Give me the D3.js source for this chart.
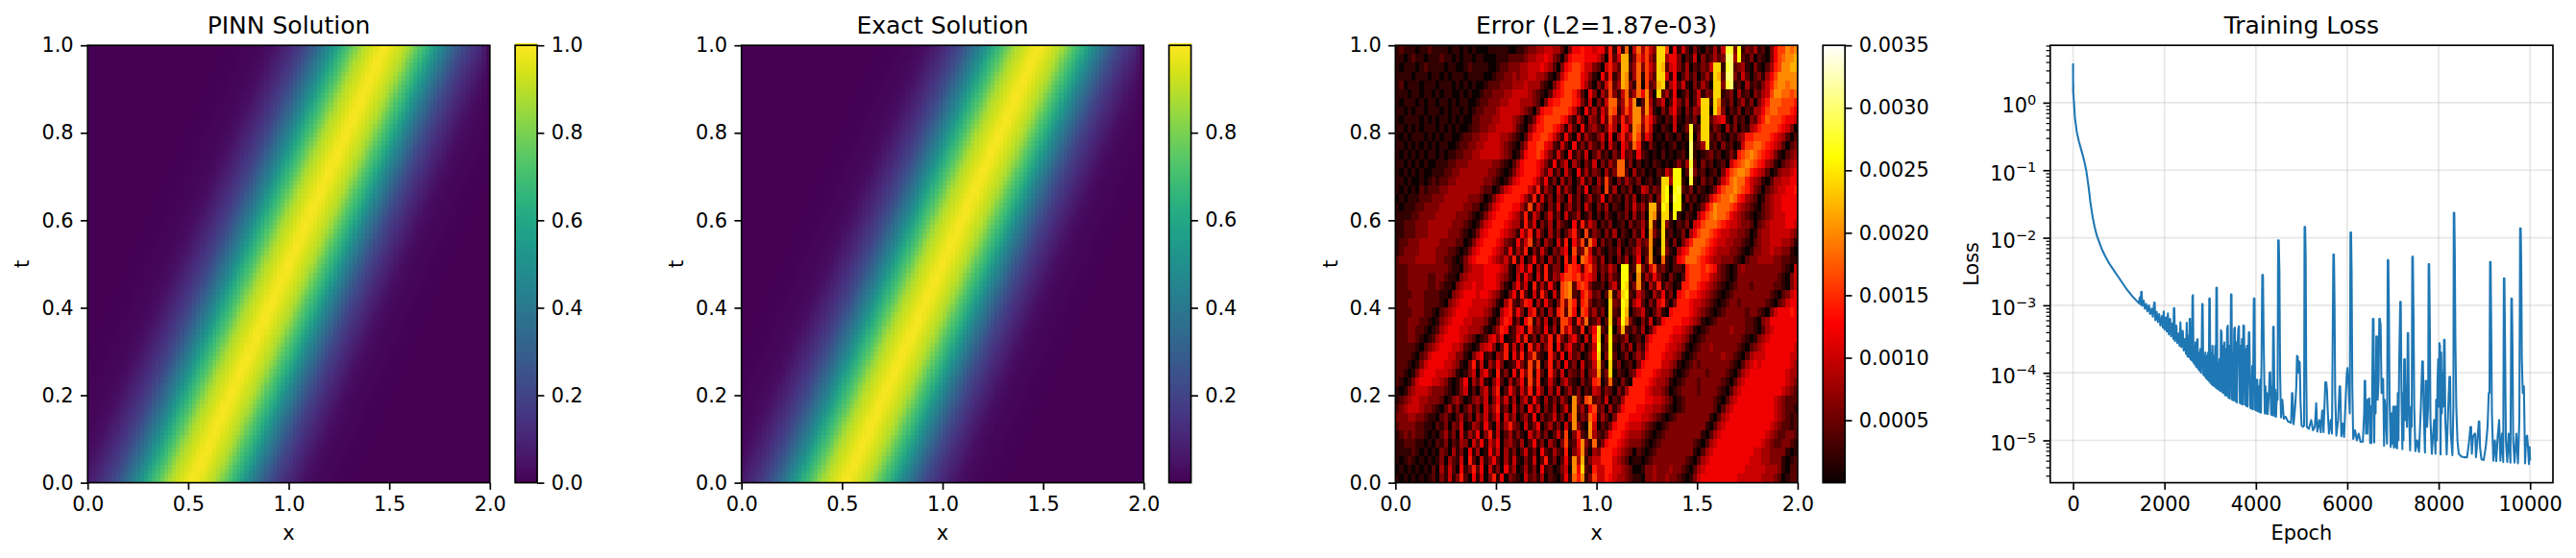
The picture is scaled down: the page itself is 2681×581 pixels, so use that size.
<!DOCTYPE html>
<html><head><meta charset="utf-8">
<script src="https://cdn.jsdelivr.net/npm/d3@7"></script>
<style>html,body{margin:0;background:#fff}svg{display:block}text{font-family:"DejaVu Sans";fill:#000}</style>
</head><body><div id="c"></div>
<script>
// u(x,t): rows bottom (t=0) to top (t=1), columns x=0..2, one base-36 digit per cell (level/35)^1.5
const pinnRows=[
"68acfilortwxyzyxwtrolifca864322110",
"468acfilortwxyzyxwtrolifca864322110",
"3468acfilortwxyzyxwtrolifca864322110",
"23468acfilortwxyzyxwtrolifca864322110",
"223468acfilortwxyzyxwtrolifca864322110",
"1223468acfilortwxyzyxwtrolifca864322110",
"11223468acfilortwxyzyxwtrolifca864322110",
"011223468acfilortwxyzyxwtrolifca864322110",
"0011223468acfilortwxyzyxwtrolifca864322110",
"00011223468acfilortwxyzyxwtrolifca864322110",
"000011223468acfilortwxyzyxwtrolifca864322110",
"0000011223468acfilortwxyzyxwtrolifca864322110",
"00000011223468acfilortwxyzyxwtrolifca864322110",
"000000011223468acfilortwxyzyxwtrolifca864322110",
"0000000011223468acfilortwxyzyxwtrolifca864322110",
"00000000011223468acfilortwxyzyxwtrolifca864322110",
"000000000011223468acfilortwxyzyxwtrolifca864322110",
"0000000000011223468acfilortwxyzyxwtrolifca86432211",
"00000000000011223468acfilortwxyzyxwtrolifca8643221",
"000000000000011223468acfilortwxyzyxwtrolifca864322",
"0000000000000011223468acfilortwxyzyxwtrolifca86432",
"00000000000000011223468acfilortwxyzyxwtrolifca8643",
"000000000000000011223468acfilortwxyzyxwtrolifca864",
"0000000000000000011223468acfilortwxyzyxwtrolifca86",
"00000000000000000011223468acfilortwxyzyxwtrolifca8"];
const exactRows=[
"68acfilortwxyzyxwtrolifca864322110",
"468acfilortwxyzyxwtrolifca864322110",
"3468acfilortwxyzyxwtrolifca864322110",
"23468acfilortwxyzyxwtrolifca864322110",
"223468acfilortwxyzyxwtrolifca864322110",
"1223468acfilortwxyzyxwtrolifca864322110",
"11223468acfilortwxyzyxwtrolifca864322110",
"011223468acfilortwxyzyxwtrolifca864322110",
"0011223468acfilortwxyzyxwtrolifca864322110",
"00011223468acfilortwxyzyxwtrolifca864322110",
"000011223468acfilortwxyzyxwtrolifca864322110",
"0000011223468acfilortwxyzyxwtrolifca864322110",
"00000011223468acfilortwxyzyxwtrolifca864322110",
"000000011223468acfilortwxyzyxwtrolifca864322110",
"0000000011223468acfilortwxyzyxwtrolifca864322110",
"00000000011223468acfilortwxyzyxwtrolifca864322110",
"000000000011223468acfilortwxyzyxwtrolifca864322110",
"0000000000011223468acfilortwxyzyxwtrolifca86432211",
"00000000000011223468acfilortwxyzyxwtrolifca8643221",
"000000000000011223468acfilortwxyzyxwtrolifca864322",
"0000000000000011223468acfilortwxyzyxwtrolifca86432",
"00000000000000011223468acfilortwxyzyxwtrolifca8643",
"000000000000000011223468acfilortwxyzyxwtrolifca864",
"0000000000000000011223468acfilortwxyzyxwtrolifca86",
"00000000000000000011223468acfilortwxyzyxwtrolifca8"];
// |error|: rows top (t=1) to bottom (t=0), 100 columns, hex digit = units of 0.0002
const errorRows=[
"1211101121 1110110101 0001111100 1123344554 4203667665 6627171905 94853cc806 1520310214 15ee3d1324 1203688a9a",
"1101211011 1211010110 1100011122 2234455653 2036777666 530725bb13 85842cc466 3021503124 23ff4d2130 2103689aab",
"1011101211 1101100121 1110012233 3445556542 0367887553 205742bb24 93853cb256 314021325c c1ef234103 102478aabb",
"1111011101 1010111011 1100122334 3445544310 2578886531 062713ba14 91842cc516 024130241c b2ff315202 31468aaaaa",
"1201110111 0111010101 0012223334 4454442103 5788886420 315824ba31 90823bc146 251031420c c3ef120412 13579aa9aa",
"1110110110 1011001010 0122333445 5554321025 6788752063 0428315924 96a30c2416 013025132c c123041203 2458aa9989",
"1011101011 0110101100 1223334455 5444320367 7888763150 315992495a 02a4135026 314025cc1c a213024130 3579998887",
"1101011011 1010110101 2233345555 5432036778 8887520624 153981485a a3a5103146 203143cc0c 9302130214 4689988876",
"1011110101 0110101002 2333445554 3201367888 8763152043 162842735a a486310215 102130cc24 5610312032 5798887665",
"1101010111 0101010012 2334455554 2103577887 6415206134 213740762a 9385102105 013e12cc13 2041302145 7888876530",
"1010111010 1011001223 3445554432 1025778875 3162051421 351604735a 8264010210 201e03cc21 3102134778 8887654202",
"1101010101 0110012233 4455554321 0247788652 1520613142 1405206429 7103101012 010f124c12 0312015889 9876542023",
"1010101011 0101122334 4555554320 1367787531 5206131502 4120316231 6210102010 120f101231 2013178 9a9 8765310234",
"1101010100 1112233344 4444332102 4677765316 1350420315 0314299130 2010210101 314e203120 1205789a98 7643102345",
"1010101001 1122334444 4443321013 5677764251 3052061413 2041399204 120102153d d02f312012 03689aa976 5420134456",
"1101001012 1223344444 4433210135 6777642613 0413025130 4182031421 301201cc4d d10e103120 2579a99754 3102445566",
"1010102122 2334444444 4322013567 7775371420 5142031602 3081402130 154132cd0d e213021013 6899a98753 2023455667",
"0101112223 3344444433 3201356777 7642715130 4205130241 2603120314 021303cd1e d031201257 899a976432 0134556666",
"1011122333 3444444332 2013567776 6428152031 5024130520 3140210315 241bb2dc0d d10201368a 9998754321 0234556666",
"1111223333 4444433321 0135677765 4271530251 3051240130 2031021304 130ba1cc1d 102104689a 9986543210 1234555666",
"1122233344 4444333210 1356777654 4172503140 4210617253 0213012031 241b20c310 2130568999 8765543320 2345555665",
"1122233344 4443332101 3567776543 1637152041 3024720813 2031402103 150a31c120 1304689987 6554433201 3445555543",
"1223334444 4333322013 5677765321 6258130420 5170638195 0312031021 423a10c203 0357999876 5544332102 3445554431",
"1233334444 3332210135 6777654261 4270315203 2460823951 3102140213 512a01c310 4679998765 4443321013 3445443310",
"2333344444 3322101356 7776543527 1502613041 3071709863 1402031402 603a109102 6799987654 4333210233 4444332211",
"2223333333 3332110345 5566665410 4626041713 3068762784 132530dd12 b315823102 2178887876 3210134333 3333332105",
"2223333322 3321103455 5566654310 5163051714 3688785764 031421dd20 a142631031 0278887754 3210133333 3333321035",
"2223333322 3211034556 5566653103 6250714162 089a278731 120351dc13 a204271320 1778876543 2101233323 3333221035",
"2222333222 2110345666 5665431036 1720517305 189a216852 302b14cd21 5310426130 6787765432 1012333333 3332102356",
"2223333222 2103456665 5554310472 1376041620 3839717831 210c32dc14 6203157203 7776554321 0123323333 3321023566",
"2222333221 0234566655 5543104672 6305713041 7829608724 130c21db02 3510241067 7776543210 1233333233 2103566676",
"2223332210 1345666554 4431025761 3068141503 1885173912 402c14da31 0315026777 7665431012 3333333221 0346666666",
"2223322101 2456665544 4310247612 5617231614 0847217036 c21d03b213 1402577776 6543101233 3334333221 0245666666",
"2223321012 4566665432 0125636012 6271304271 7314620517 c03d212401 2046777765 5431012333 3333332101 3456666666",
"2222210234 5666554210 1456302715 1507251370 6146214025 d12d103140 3157777655 4310123343 3333321023 4566666665",
"2222102356 6665533103 5612043706 2714821073 1605230136 c03d201302 4267776554 3101233333 3433210245 5566666655",
"2221013566 6655431037 1504263012 6318280271 4061305125 b20c130120 3677775543 1012323333 3332102456 5666666654",
"2210135666 5554310135 0462071306 1738172073 1503214034 a13c021023 6777654431 0123333233 3321024566 6666666544",
"2101356665 5431013604 2510362041 3618270152 0352103127 8029103107 7776544310 1233323333 3210245666 6666666543",
"1013455543 3321013502 0351470263 1527163041 5024130215 4132031477 7765443201 2333323333 2102456666 6666665432",
"1234554433 3201342013 4250362514 0351620413 1420a31892 3150214777 7766554320 1233333332 1024566666 6666543222",
"2345554332 1024130241 3052471305 1306250314 0251a24168 2304136777 6655443210 1233333332 0245666666 6666543221",
"3334433211 0231024130 4251360524 0241603125 1304a13297 1420377766 6554321012 3333333310 2456666666 6666543212",
"2333322110 2130325014 3162051473 2051360241 3051a310a5 0213677655 5432101233 3333333102 4566666666 6665432212",
"1232322101 0241305142 6037150241 3105241302 51803721a4 2136776544 4321012333 3333331024 5666666666 6654322332",
"1122211010 2130214305 2615360342 1402613042 038126a319 1367765433 3210123333 3333210245 6666666666 6543223321",
"1111210101 0320413061 4016250413 0251306214 217035a204 3777654320 2101233333 3333102456 6666666665 5443333101",
"1012101010 1304215072 0513620415 1031502713 0261a4b135 5777543201 1012333333 3321024566 6666666655 5443331012",
"0101010102 0415206137 2605130624 0141306120 1350a6c217 5577554320 0133433343 3210245666 6666666555 5544431022",
"1010101012 0315137206 1503716032 1052314021 026197a138 5576544321 1033433433 2101356666 6666655555 5444320122"];
// training loss: epoch, log10(loss) pairs
const lossHistory=[0,.58,1,.15,3,.3,5,.14,10,.1,20,0,40,-.22,80,-.43,130,-.58,200,-.75,250,-.88,290,-1.01,340,-1.25,380,-1.48,430,-1.7,475,-1.85,520,-1.97,570,-2.06,630,-2.17,700,-2.27,790,-2.38,890,-2.48,1000,-2.59,1160,-2.75,1300,-2.87,1400,-2.94,1440,-2.97,1460,-2.88,1480,-2.99,1490,-2.8,1500,-2.8,
1515,-3.01,1545,-2.93,1570,-3.05,1600,-2.98,1625,-3.09,1660,-3,1685,-3.13,1720,-3.05,1745,-3.17,1775,-2.96,1785,-2.96,1800,-3.22,1830,-3.1,1855,-3.25,1885,-3.13,1910,-3.3,1945,-3.16,1965,-3.33,1983,-3.09,2000,-3.36,2030,-3.18,2050,-3.39,2075,-3.12,2095,-3.43,2125,-3.2,2145,-3.46,2175,-3.27,2195,-3.5,2205,-3.04,2215,-3.04,2230,-3.53,2260,-3.3,2280,-3.56,2310,-3.42,2330,-3.6,2349,-3.25,2370,-3.62,2400,-3.38,2420,-3.67,2450,-3.5,2470,-3.72,2486,-3.26,
2505,-3.76,2520,-3.5,2530,-3.45,2540,-3.77,2550,-3.2,2560,-3.2,2570,-3.8,2585,-3.55,2600,-3.82,2612,-2.87,2623,-2.85,2635,-3.85,2650,-3.6,2665,-3.88,2680,-3.55,2695,-3.91,2715,-3.51,2725,-3.5,2735,-3.94,2750,-3.7,2765,-3.97,2785,-3.65,2800,-4,2815,-3.6,2825,-2.98,2835,-2.98,2850,-4.03,2865,-3.75,2880,-4.05,2895,-3.7,2910,-4.08,2925,-3.75,2940,-4.1,2955,-3.7,2970,-4.12,2980,-2.9,2992,-2.9,3005,-4.15,3020,-3.7,3035,-4.17,3050,-3.6,3065,-4.19,3080,-3.75,3095,-4.2,3110,-3.6,3125,-4.22,3135,-2.74,3147,-2.74,3160,-4.24,3175,-3.85,3190,-4.25,3205,-3.8,3220,-4.27,3235,-3.37,3250,-3.4,3265,-4.29,3280,-3.6,3295,-4.3,3310,-3.55,3325,-4.33,3340,-3.65,3355,-4.34,3370,-3.35,3385,-3.3,3400,-4.37,3415,-3.6,3430,-4.38,3445,-3.8,3455,-2.84,3467,-2.84,3480,-4.4,3495,-3.7,3510,-4.41,3525,-3.35,3540,-3.33,3555,-4.42,3570,-3.55,3585,-4.44,3600,-3.6,3615,-3.35,3630,-3.31,3650,-4.45,3665,-3.6,3680,-4.46,3695,-3.5,3710,-4.47,3725,-3.3,3740,-3.3,3760,-4.47,3775,-3.65,3790,-4.49,3805,-3.6,3820,-4.5,3845,-3.4,3857,-3.4,3880,-4.52,3905,-4.53,3920,-3.9,3935,-4.54,3955,-2.9,3970,-2.9,3985,-4.55,
4000,-4.1,4015,-4.56,4030,-4.1,4045,-4.57,4060,-4.2,4075,-4.58,4095,-4.1,4110,-4.59,4125,-3.7,4140,-2.55,4155,-2.55,4170,-3.5,4195,-4.6,4210,-4.2,4225,-4.6,4240,-4.3,4260,-4.61,4285,-4.3,4300,-4.0,4314,-3.99,4335,-4.62,4350,-4.2,4365,-4.63,4378,-3.32,4390,-3.32,4410,-4.64,4425,-4.25,4440,-4.65,4460,-4.3,4475,-4.4,4487,-2.04,4500,-2.04,4515,-2.5,4530,-4,4550,-4.66,4580,-4.4,4610,-4.68,4650,-4.65,4700,-4.72,4770,-4.74,4790,-4.3,4800,-4.3,4825,-4.76,4860,-4.5,4885,-4.2,4900,-3.75,4915,-3.76,4930,-4,4945,-3.83,4960,-3.85,4975,-4.4,5000,-4.78,5035,-4.8,5055,-4.78,5065,-1.84,5078,-1.84,5090,-2.3,5100,-3.9,5115,-4.8,5160,-4.83,5210,-4.7,5250,-4.85,5290,-4.8,5320,-4.45,5345,-4.87,5390,-4.7,5420,-4.88,5450,-4.56,5465,-4.56,5480,-4.88,5520,-4.14,5540,-4.14,5555,-4.25,5575,-4.6,5600,-4.9,5640,-4.7,5665,-4.9,5695,-2.25,5708,-2.25,5720,-2.9,5735,-4.3,5760,-4.93,5800,-4.7,5830,-4.2,5845,-4.2,5870,-4.94,5900,-4.75,5930,-4.95,5970,-4.3,5990,-4,6005,-3.93,6030,-4.2,6055,-4.6,6070,-1.92,6083,-1.92,6095,-2.5,6110,-4.2,6130,-4.98,6170,-4.85,6210,-5,6250,-4.9,6290,-5.02,6340,-5.02,6370,-4.6,6380,-4.12,6392,-4.12,6410,-4.9,6425,-4.4,6440,-4.9,6455,-4.4,6480,-4.38,6500,-5.04,6515,-4.5,6530,-5.04,6545,-4.3,6560,-3.2,6575,-3.2,6590,-5.03,6605,-4,6620,-4.6,6635,-3.46,6650,-3.46,6665,-4.4,6685,-4.1,6700,-3.2,6712,-3.2,6730,-3.3,6750,-4.3,6770,-4.09,6785,-4.09,6805,-5.08,6820,-4.4,6840,-4.6,6870,-5.05,6885,-2.33,6897,-2.33,6910,-3,6925,-4.4,6950,-5.1,6970,-4.6,6990,-5.05,7005,-4.5,7020,-5.11,7040,-4.5,7060,-5.1,7075,-4.5,7090,-5.12,7105,-4.3,7120,-5.0,7135,-3.9,7158,-2.95,7170,-2.95,7185,-4.2,7205,-5.13,7218,-4.3,7230,-5.0,7245,-3.8,7260,-3.8,7275,-4.7,7290,-4.2,7305,-4.8,7322,-3.41,7334,-3.41,7350,-4.6,7375,-5.15,7395,-4.5,7410,-4.8,7422,-2.28,7435,-2.28,7450,-3.2,7465,-4.5,7490,-5.16,7530,-5,7570,-5.17,7610,-4.5,7640,-3.83,7655,-3.83,7670,-4.5,7700,-5.18,7715,-4.12,7728,-4.12,7745,-4.8,7770,-4.5,7780,-2.39,7792,-2.39,7805,-3.2,7820,-4.7,7850,-5.2,7900,-4.7,7930,-5.2,7945,-4.4,7960,-5.0,7975,-4.1,7990,-3.8,8005,-4.5,8016,-3.56,8028,-3.6,8042,-5.21,8055,-3.7,8070,-4.6,8085,-4.0,8100,-4.5,8118,-3.51,8130,-3.51,8145,-4.7,8175,-5.21,8205,-4.6,8235,-4.06,8250,-4.06,8265,-4.9,8300,-5.22,8322,-4.5,8330,-1.63,8342,-1.63,8352,-2.2,8365,-3.5,8385,-4.5,8410,-5,8440,-5.2,8500,-5.24,8560,-5.25,8620,-5.25,8660,-5.05,8695,-4.8,8710,-4.8,8725,-5.2,8750,-4.95,8785,-4.9,8800,-4.9,8815,-5.25,8850,-5,8878,-4.72,8890,-4.72,8905,-5.1,8935,-5.28,8985,-5.29,9030,-5.1,9070,-4.8,9095,-4.3,9112,-4.3,9124,-2.36,9136,-2.36,9148,-3.2,9165,-4.6,9195,-5.3,9230,-5,9260,-5.31,9290,-4.95,9323,-4.7,9350,-5.3,9385,-4.9,9412,-5.32,9426,-2.6,9438,-2.6,9450,-3.4,9470,-5,9500,-5.32,9530,-4.9,9570,-5.33,9590,-2.9,9602,-2.9,9615,-3.6,9630,-5,9660,-5.33,9700,-4.9,9735,-5.34,9765,-4.7,9782,-1.86,9795,-1.86,9807,-2.4,9820,-3.8,9840,-4.3,9865,-4.2,9890,-5.34,9915,-4.95,9935,-4.93,9955,-5.1,9975,-5.35,9990,-5.1,10000,-5.3];
const xTicks=[0,.5,1,1.5,2], tTicks=[0,.2,.4,.6,.8,1];
const pinnBarTicks=[0,.2,.4,.6,.8,1], exactBarTicks=[.2,.4,.6,.8];
const errorBarTicks=[.0005,.001,.0015,.002,.0025,.003,.0035];
const epochTicks=[0,2000,4000,6000,8000,10000], decades=[0,-1,-2,-3,-4,-5];

const W=2681,H=581,TOP=47.2,BOT=502.6,FS=20.83,TITLE=25;
const SP=1.67,TL=7.3,TP=7.3;
const svg=d3.select("#c").append("svg").attr("width",W).attr("height",H).attr("viewBox",[0,0,W,H]);
const fmt1=d3.format(".1f");
const viridis=d3.interpolateViridis;
const hot=d3.scaleLinear().domain([0,.365,.746,1]).range(["#0b0000","#ff0000","#ffff00","#ffffff"]);
const yT=d3.scaleLinear().domain([0,1]).range([BOT,TOP]);

function styleAxis(g){g.select(".domain").remove();
 g.selectAll(".tick line").attr("stroke","#000").attr("stroke-width",SP);
 g.selectAll("text").attr("font-size",FS).attr("fill","#000");}
function frame(x0,x1,g){g.append("rect").attr("x",x0).attr("y",TOP).attr("width",x1-x0).attr("height",BOT-TOP)
 .attr("fill","none").attr("stroke","#000").attr("stroke-width",SP);}
function titles(g,x0,x1,title,xl,yl,ylx){
 g.append("text").attr("x",(x0+x1)/2).attr("y",35).attr("text-anchor","middle").attr("font-size",TITLE).text(title);
 g.append("text").attr("x",(x0+x1)/2).attr("y",561.5).attr("text-anchor","middle").attr("font-size",FS).text(xl);
 g.append("text").attr("transform",`translate(${ylx},${(TOP+BOT)/2}) rotate(-90)`).attr("text-anchor","middle").attr("font-size",FS).text(yl);}
function posAxes(g,x){
 g.append("g").attr("transform",`translate(0,${BOT})`).call(d3.axisBottom(x).tickValues(xTicks).tickFormat(fmt1).tickSize(TL).tickPadding(TP)).call(styleAxis);
 g.append("g").attr("transform",`translate(${x.range()[0]},0)`).call(d3.axisLeft(yT).tickValues(tTicks).tickFormat(fmt1).tickSize(TL).tickPadding(TP)).call(styleAxis);}
function colorbar(g,x0,domain,color,ticks,f){
 const w=23,s=d3.scaleLinear().domain(domain).range([BOT,TOP]),steps=d3.range(256).map(i=>i/255);
 g.append("g").selectAll("rect").data(steps).join("rect").attr("x",x0).attr("width",w)
  .attr("y",d=>BOT-(d+1/256)*(BOT-TOP)).attr("height",(BOT-TOP)/256+.6).attr("fill",d=>color(d)).attr("shape-rendering","crispEdges");
 g.append("rect").attr("x",x0).attr("y",TOP).attr("width",w).attr("height",BOT-TOP).attr("fill","none").attr("stroke","#000").attr("stroke-width",SP);
 g.append("g").attr("transform",`translate(${x0+w},0)`).call(d3.axisRight(s).tickValues(ticks).tickFormat(f).tickSize(TL).tickPadding(TP)).call(styleAxis);}
function smoothPanel(g,x0,rows,title,barTicks,barDomain){
 const x=d3.scaleLinear().domain([0,2]).range([x0,x0+418.6]);
 const nx=51,ny=rows.length,color=d3.scaleSequential(viridis).domain([0,1]);
 const small=document.createElement("canvas");small.width=nx;small.height=ny;const sc=small.getContext("2d");
 rows.forEach((r,k)=>{const s=r.padEnd(nx,"0");for(let i=0;i<nx;i++){sc.fillStyle=color(Math.pow(parseInt(s[i],36)/35,1.5));sc.fillRect(i,ny-1-k,1,1);}});
 const big=document.createElement("canvas");big.width=100;big.height=100;const bc=big.getContext("2d");
 bc.imageSmoothingEnabled=true;bc.imageSmoothingQuality="high";
 const hx=.02,ht=.5/(ny-1);
 const gx=d3.scaleLinear().domain([0,2]).range([0,100]),gy=d3.scaleLinear().domain([1,0]).range([0,100]);
 bc.drawImage(small,gx(-hx),gy(1+ht),gx(2+hx)-gx(-hx),gy(-ht)-gy(1+ht));
 g.append("image").attr("href",big.toDataURL()).attr("x",x(0)).attr("y",TOP).attr("width",x(2)-x(0)).attr("height",BOT-TOP)
  .attr("preserveAspectRatio","none").style("image-rendering","pixelated");
 frame(x(0),x(2),g);posAxes(g,x);titles(g,x(0),x(2),title,"x","t",x0-60.8);
 colorbar(g,x0+444.9,barDomain,color,barTicks,fmt1);
}
smoothPanel(svg.append("g"),91.2,pinnRows,"PINN Solution",pinnBarTicks,[0,1]);
smoothPanel(svg.append("g"),771.7,exactRows,"Exact Solution",exactBarTicks,[.0005,.9995]);

// error panel
(function(){
 const g=svg.append("g"),x0=1452.3,x=d3.scaleLinear().domain([0,2]).range([x0,x0+418.6]);
 const vmax=.0035,cells=[];
 errorRows.forEach((row,r)=>{const s=row.replace(/ /g,"").padEnd(100,"2");
  for(let c=0;c<100;c++)cells.push({c,r,v:parseInt(s[c],16)*.0002});});
 const color=v=>hot(v/vmax),dx=.02,dt=1/errorRows.length;
 g.append("g").selectAll("rect").data(cells).join("rect").attr("shape-rendering","crispEdges")
  .attr("x",d=>x(d.c*dx)).attr("width",x(dx)-x(0)+.5).attr("y",d=>yT(1-d.r*dt)).attr("height",yT(0)-yT(dt)+.5).attr("fill",d=>color(d.v));
 frame(x(0),x(2),g);posAxes(g,x);titles(g,x(0),x(2),"Error (L2=1.87e-03)","x","t",x0-60.8);
 colorbar(g,x0+444.9,[0,vmax],t=>hot(t),errorBarTicks,d3.format(".4f"));
})();

// loss panel
(function(){
 const g=svg.append("g"),x0=2133.8,x1=2657;
 const x=d3.scaleLinear().domain([-500,10500]).range([x0,x1]);
 const y=d3.scaleLog().domain([Math.pow(10,-5.627),Math.pow(10,.849)]).range([BOT,TOP]);
 const pts=[];for(let i=0;i<lossHistory.length;i+=2)pts.push([lossHistory[i],Math.pow(10,lossHistory[i+1])]);
 const grid=g.append("g").attr("stroke","#b0b0b0").attr("stroke-width",SP).attr("stroke-opacity",.3);
 grid.selectAll(".v").data(epochTicks).join("line").attr("x1",x).attr("x2",x).attr("y1",TOP).attr("y2",BOT);
 grid.selectAll(".h").data(decades).join("line").attr("y1",d=>y(Math.pow(10,d))).attr("y2",d=>y(Math.pow(10,d))).attr("x1",x0).attr("x2",x1);
 g.append("path").attr("d",d3.line().x(d=>x(d[0])).y(d=>y(d[1]))(pts)).attr("fill","none").attr("stroke","#1f77b4").attr("stroke-width",2.08).attr("stroke-linejoin","round");
 frame(x0,x1,g);
 g.append("g").attr("transform",`translate(0,${BOT})`).call(d3.axisBottom(x).tickValues(epochTicks).tickFormat(d3.format("d")).tickSize(TL).tickPadding(TP)).call(styleAxis);
 const minors=[];for(let d=-6;d<=0;d++)for(let m=2;m<=9;m++){const v=m*Math.pow(10,d);if(y(v)>=TOP&&y(v)<=BOT)minors.push(v);}
 const minorAxis=g.append("g").attr("transform",`translate(${x0},0)`).call(d3.axisLeft(y).tickValues(minors).tickFormat("").tickSize(4.2));
 minorAxis.select(".domain").remove();minorAxis.selectAll(".tick line").attr("stroke","#000").attr("stroke-width",1.25);
 const major=g.append("g").attr("transform",`translate(${x0},0)`).call(d3.axisLeft(y).tickValues(decades.map(d=>Math.pow(10,d))).tickFormat("").tickSize(TL));
 major.select(".domain").remove();major.selectAll(".tick line").attr("stroke","#000").attr("stroke-width",SP);
 major.selectAll(".tick text").each(function(v){
  const d=Math.round(Math.log10(v)),t=d3.select(this).attr("x",-14.6).attr("dy",null).attr("y",10).attr("font-size",FS).attr("text-anchor","end").attr("fill","#000");
  t.text("10");
  t.append("tspan").attr("dy",-8.5).attr("font-size",14.6).text((d<0?"\u2212":"")+Math.abs(d));
 });
 titles(g,x0,x1,"Training Loss","Epoch","Loss",2058.6);
})();
</script></body></html>
